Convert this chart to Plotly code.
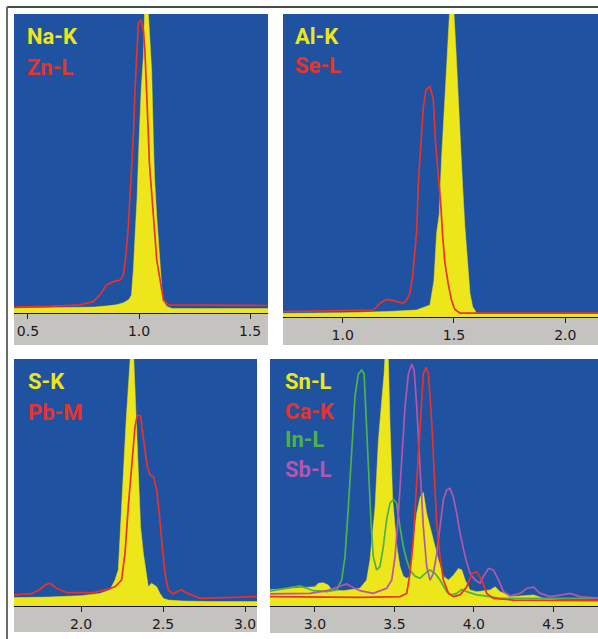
import plotly.graph_objects as go

W, H = 598, 639

# ---------------- data (keV, relative counts) ----------------
# Panel 1
na_k_x = [0.43, 0.70, 0.80, 0.86, 0.90, 0.93, 0.955, 0.966, 0.975, 0.983, 0.991, 1.000, 1.010, 1.020,
          1.030, 1.047, 1.057, 1.065, 1.070, 1.080, 1.092, 1.102, 1.110, 1.125, 1.15, 1.59]
na_k_y = [1.6, 1.8, 2.0, 2.4, 2.8, 3.4, 4.5, 6, 15, 27, 38, 57, 75, 86,
          115, 94, 81, 57, 45, 32, 18, 9, 4, 2.2, 1.5, 1.5]
zn_l_x = [0.43, 0.60, 0.734, 0.794, 0.824, 0.854, 0.885, 0.915, 0.930, 0.942, 0.952, 0.963, 0.975, 0.982,
          0.990, 0.997, 1.008, 1.020, 1.027, 1.035, 1.042, 1.047, 1.057, 1.068, 1.080, 1.095, 1.110, 1.132, 1.59]
zn_l_y = [2.0, 2.2, 2.7, 3.8, 6.0, 9.4, 10.5, 11.0, 12.7, 20, 29, 42, 60, 74.6,
          88, 97, 97.8, 94.6, 87, 74.6, 60, 50, 40, 28, 17.7, 11, 4.3, 2.7, 2.5]

# Panel 2
al_k_x = [0.73, 1.0, 1.20, 1.332, 1.392, 1.410, 1.422, 1.434, 1.444, 1.455, 1.467, 1.479, 1.489, 1.509,
          1.519, 1.530, 1.539, 1.549, 1.560, 1.572, 1.584, 1.602, 2.15]
al_k_y = [1.2, 1.4, 1.8, 2.3, 4, 12, 27.6, 34, 52, 69, 82.6, 99, 115, 88,
          71.6, 58.4, 43, 29.8, 17.7, 7.8, 3.4, 1.2, 1.2]
se_l_x = [0.73, 1.0, 1.138, 1.168, 1.197, 1.227, 1.272, 1.287, 1.302, 1.314, 1.325, 1.332, 1.340, 1.352,
          1.362, 1.374, 1.392, 1.407, 1.417, 1.429, 1.440, 1.449, 1.459, 1.474, 1.489, 1.504, 1.527, 2.15]
se_l_y = [1.8, 2.0, 2.3, 4.5, 5.8, 5.4, 4.5, 5.5, 7.8, 13.3, 22, 28, 44, 58,
          69, 75, 76, 72, 58, 47, 38, 27, 18, 11, 5.5, 2.5, 1.3, 1.3]

# Panel 3
s_k_x = [1.58, 1.8, 2.0, 2.115, 2.176, 2.207, 2.227, 2.241, 2.258, 2.274, 2.288, 2.302, 2.314, 2.325,
         2.335, 2.349, 2.363, 2.380, 2.396, 2.410, 2.430, 2.461, 2.481, 2.501, 2.532, 2.623, 2.80, 3.08]
s_k_y = [3.4, 3.6, 4.2, 5.1, 6.5, 10.5, 14.6, 34.8, 53.7, 74, 87.4, 98, 115, 94,
         78, 53.7, 32, 21.3, 13.2, 7.8, 9.2, 7.8, 5.1, 3.1, 2.4, 2.0, 1.8, 1.8]
pb_m_x = [1.58, 1.70, 1.749, 1.78, 1.810, 1.851, 1.912, 2.075, 2.156, 2.207, 2.247, 2.268, 2.288, 2.308,
          2.329, 2.343, 2.363, 2.384, 2.404, 2.420, 2.441, 2.461, 2.477, 2.495, 2.512, 2.532, 2.562, 2.590,
          2.613, 2.640, 2.664, 2.725, 2.928, 3.08]
pb_m_y = [4.5, 5.0, 6.7, 8.5, 9.2, 7.2, 5.4, 5.4, 6.7, 7.8, 10.5, 21.3, 40.2, 57.8,
          72.6, 77.3, 76.9, 65.9, 56.4, 53, 52.4, 47, 37.5, 24, 13.2, 6.5, 4.9, 6.0,
          6.5, 5.5, 4.9, 3.1, 3.5, 3.8]

# Panel 4
sn_l_x = [2.70, 2.906, 3.0, 3.021, 3.052, 3.084, 3.105, 3.178, 3.283, 3.325, 3.346, 3.378, 3.399, 3.420,
          3.435, 3.451, 3.462, 3.472, 3.489, 3.504, 3.518, 3.535, 3.556, 3.577, 3.598, 3.619, 3.640, 3.661,
          3.682, 3.703, 3.724, 3.745, 3.777, 3.808, 3.840, 3.871, 3.903, 3.924, 3.945, 3.976, 4.018, 4.102,
          4.134, 4.165, 4.249, 4.375, 4.438, 4.543, 4.79]
sn_l_y = [6.5, 7.2, 7.8, 9.2, 9.4, 8.5, 6.5, 6.2, 7.2, 10.5, 18.6, 40, 67, 83,
          94, 115, 99.6, 74, 43, 32, 22.7, 16, 12, 11.2, 12, 26.7, 37.5, 44,
          46, 37.5, 32, 26.7, 18.6, 12, 10.5, 12.5, 15.2, 14.6, 10.5, 6.5, 5.8, 6.5,
          7.8, 5.8, 3.8, 4.5, 3.1, 2.4, 2.2]
ca_k_x = [2.70, 3.283, 3.535, 3.577, 3.598, 3.619, 3.640, 3.661, 3.682, 3.699, 3.714, 3.735, 3.750, 3.766,
          3.787, 3.808, 3.840, 3.871, 3.913, 3.955, 3.987, 4.018, 4.050, 4.081, 4.123, 4.249, 4.79]
ca_k_y = [3.8, 3.5, 3.8, 5.1, 13.2, 26.7, 50, 74, 94, 96.6, 94, 74, 54, 33.5,
          20, 10.5, 5.1, 3.8, 4.5, 7.8, 13.2, 13.9, 10.5, 5.1, 3.1, 2.4, 2.2]
in_l_x = [2.70, 2.843, 2.906, 2.948, 2.990, 3.073, 3.136, 3.168, 3.189, 3.210, 3.231, 3.252, 3.273, 3.294,
          3.309, 3.321, 3.336, 3.353, 3.367, 3.388, 3.409, 3.430, 3.451, 3.472, 3.493, 3.514, 3.535, 3.556,
          3.577, 3.598, 3.630, 3.661, 3.693, 3.724, 3.756, 3.787, 3.829, 3.861, 3.892, 3.924, 3.955, 4.018,
          4.081, 4.165, 4.79]
in_l_y = [5.8, 7.2, 8.1, 7.2, 6.2, 5.8, 6.5, 10.5, 20, 40, 63, 85, 94, 95.5,
          94, 78, 54, 33.5, 20, 14.6, 16, 24, 35, 41.6, 43.2, 41.6, 32, 24,
          18.6, 14.6, 12, 11.2, 13.2, 14.6, 13.2, 10.5, 5.8, 4.5, 5.1, 6.7, 5.8, 4.5,
          4.0, 3.1, 3.1]
sb_l_x = [2.70, 2.969, 3.073, 3.157, 3.199, 3.231, 3.283, 3.367, 3.451, 3.483, 3.504, 3.525, 3.546, 3.567,
          3.588, 3.609, 3.624, 3.640, 3.661, 3.682, 3.703, 3.724, 3.745, 3.766, 3.787, 3.808, 3.829, 3.850,
          3.871, 3.892, 3.913, 3.945, 3.976, 4.008, 4.039, 4.060, 4.092, 4.123, 4.155, 4.186, 4.228, 4.291,
          4.333, 4.375, 4.417, 4.480, 4.553, 4.606, 4.669, 4.79]
sb_l_y = [4.9, 5.1, 6.2, 7.8, 8.9, 7.8, 6.2, 5.1, 7.2, 10.5, 20, 37.5, 60, 81,
          94, 98, 95.5, 81, 56, 32, 16, 10.5, 13.2, 21, 32, 43, 47, 47.6,
          44, 37.5, 29.4, 20, 13.2, 10.5, 9.2, 12, 15.2, 14.6, 10.5, 5.8, 4.0, 5.1,
          7.2, 7.6, 5.1, 3.8, 4.5, 5.1, 3.8, 3.1]

# Axis ranges / ticks
x_ranges = [[0.437, 1.581], [0.732, 2.147], [1.591, 3.073], [2.717, 4.781]]
tick_vals = [[0.5, 1.0, 1.5], [1.0, 1.5, 2.0], [2.0, 2.5, 3.0], [3.0, 3.5, 4.0, 4.5]]
tick_text = [["0.5", "1.0", "1.5"], ["1.0", "1.5", "2.0"], ["2.0", "2.5", "3.0"], ["3.0", "3.5", "4.0", "4.5"]]

labels = [
    [("Na-K", "yellow"), ("Zn-L", "red")],
    [("Al-K", "yellow"), ("Se-L", "red")],
    [("S-K", "yellow"), ("Pb-M", "red")],
    [("Sn-L", "yellow"), ("Ca-K", "red"), ("In-L", "green"), ("Sb-L", "purple")],
]

# ---------------- style ----------------
BLUE = "#1f52a0"
COL = {"yellow": "#ece61a", "red": "#e8322a", "green": "#4cb348", "purple": "#b455ae"}
GRAY = "#c5c3bf"

# panel pixel boxes: (left, right, top, bottom_of_plot, bottom_of_gray)
boxes = [(14, 268, 14, 313, 345), (283, 598, 14, 317, 345),
         (14, 257, 359, 606, 632), (270, 598, 359, 606, 633)]
label_pos = [(25, [36.5, 67.5]), (293, [36.5, 65]), (26, [381.5, 412.5]),
             (283, [381.5, 411.5, 440, 469.5])]

px = lambda v: v / W
py = lambda v: 1 - v / H

fig = go.Figure()

series = [
    [(na_k_x, na_k_y, "yellow", True), (zn_l_x, zn_l_y, "red", False)],
    [(al_k_x, al_k_y, "yellow", True), (se_l_x, se_l_y, "red", False)],
    [(s_k_x, s_k_y, "yellow", True), (pb_m_x, pb_m_y, "red", False)],
    [(sn_l_x, sn_l_y, "yellow", True), (in_l_x, in_l_y, "green", False),
     (sb_l_x, sb_l_y, "purple", False), (ca_k_x, ca_k_y, "red", False)],
]

shapes = []
annotations = []
for i, (box, ser) in enumerate(zip(boxes, series)):
    n = "" if i == 0 else str(i + 1)
    xa, ya = "x" + n, "y" + n
    l, r, t, b, g = box
    for xs, ys, c, filled in ser:
        if filled:
            fig.add_trace(go.Scatter(x=xs, y=ys, xaxis=xa, yaxis=ya, mode="lines",
                                     line=dict(color=COL[c], width=0.5, shape="linear"),
                                     fill="tozeroy", fillcolor=COL[c], hoverinfo="skip",
                                     showlegend=False))
        else:
            fig.add_trace(go.Scatter(x=xs, y=ys, xaxis=xa, yaxis=ya, mode="lines",
                                     line=dict(color=COL[c], width=1.7, shape="linear"),
                                     hoverinfo="skip", showlegend=False))
    fig.update_layout(**{
        "xaxis" + n: dict(domain=[px(l), px(r)], range=x_ranges[i], anchor=ya,
                          showgrid=False, zeroline=False, showline=True, linecolor="#111",
                          linewidth=1, ticks="outside", ticklen=5, tickwidth=1, tickcolor="#222",
                          tickvals=tick_vals[i], ticktext=tick_text[i],
                          tickfont=dict(family="DejaVu Sans", size=14, color="#1a1a1a")),
        "yaxis" + n: dict(domain=[py(b), py(t)], range=[0, 100], anchor=xa, visible=False),
    })
    shapes.append(dict(type="rect", xref="paper", yref="paper", x0=px(l), x1=px(r),
                       y0=py(g), y1=py(b), fillcolor=GRAY, line=dict(width=0), layer="below"))
    lx, lys = label_pos[i]
    for (txt, c), ly in zip(labels[i], lys):
        annotations.append(dict(text="<b>" + txt + "</b>", xref="paper", yref="paper",
                                x=px(lx), y=py(ly), xanchor="left", yanchor="middle",
                                showarrow=False,
                                font=dict(family="Roboto, Liberation Sans, sans-serif",
                                          size=22, color=COL[c])))

# frame lines
shapes.append(dict(type="line", xref="paper", yref="paper", x0=px(7), x1=1, y0=py(7), y1=py(7),
                   line=dict(color="#4a4a4a", width=2)))
shapes.append(dict(type="line", xref="paper", yref="paper", x0=px(7), x1=px(7), y0=py(7), y1=0,
                   line=dict(color="#6a6a6a", width=2)))

fig.update_layout(width=W, height=H, margin=dict(l=0, r=0, t=0, b=0),
                  paper_bgcolor="white", plot_bgcolor=BLUE,
                  shapes=shapes, annotations=annotations, showlegend=False)

fig.write_html("out.html", config={"displayModeBar": False, "staticPlot": True},
               post_script="document.body.style.margin='0';document.body.style.overflow='hidden';")
